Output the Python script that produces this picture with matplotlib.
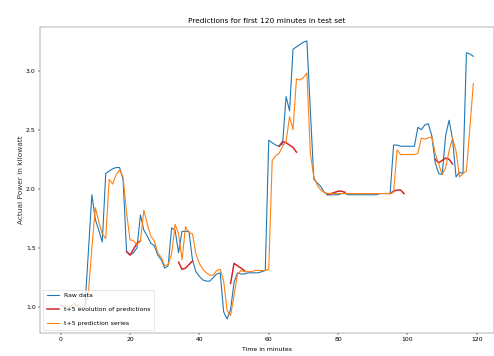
import numpy as np
import matplotlib
matplotlib.use('Agg')
import matplotlib.pyplot as plt

# raw power readings, one per minute (t = 0..119)
raw = [1.02, 1.00, 0.98, 1.01, 1.03, 1.00, 0.98, 1.00, 1.47, 1.95,
       1.74, 1.65, 1.55, 2.13, 2.15, 2.17, 2.18, 2.18, 2.08, 1.47,
       1.44, 1.46, 1.50, 1.78, 1.65, 1.60, 1.54, 1.52, 1.44, 1.40,
       1.33, 1.35, 1.67, 1.65, 1.46, 1.64, 1.64, 1.64, 1.40, 1.30,
       1.26, 1.23, 1.22, 1.22, 1.25, 1.28, 1.29, 0.96, 0.90, 0.98,
       1.21, 1.29, 1.28, 1.28, 1.29, 1.29, 1.29, 1.29, 1.30, 1.31,
       2.41, 2.39, 2.37, 2.36, 2.38, 2.78, 2.66, 3.18, 3.20, 3.22,
       3.24, 3.25, 2.66, 2.08, 2.05, 2.02, 1.97, 1.95, 1.95, 1.95,
       1.95, 1.96, 1.96, 1.95, 1.95, 1.95, 1.95, 1.95, 1.95, 1.95,
       1.95, 1.95, 1.96, 1.96, 1.96, 1.96, 2.37, 2.37, 2.36, 2.36,
       2.36, 2.36, 2.36, 2.52, 2.50, 2.54, 2.55, 2.45, 2.22, 2.13,
       2.12, 2.45, 2.58, 2.42, 2.10, 2.14, 2.13, 3.15, 3.14, 3.12]

# t+5 prediction series
pred = [1.00, 1.02, 1.00, 0.99, 1.01, 1.02, 1.00, 0.99, 1.12, 1.50,
        1.84, 1.72, 1.62, 1.58, 2.08, 2.04, 2.12, 2.16, 2.10, 1.80,
        1.57, 1.56, 1.53, 1.56, 1.82, 1.70, 1.60, 1.56, 1.46, 1.42,
        1.35, 1.36, 1.45, 1.70, 1.62, 1.40, 1.68, 1.63, 1.62, 1.45,
        1.37, 1.32, 1.29, 1.27, 1.27, 1.31, 1.32, 1.22, 0.97, 0.93,
        1.10, 1.28, 1.31, 1.30, 1.30, 1.30, 1.31, 1.31, 1.31, 1.31,
        1.32, 2.24, 2.28, 2.30, 2.36, 2.40, 2.61, 2.50, 2.93, 2.92,
        2.94, 2.98, 2.30, 2.10, 2.03, 1.99, 1.97, 1.96, 1.96, 1.96,
        1.96, 1.96, 1.96, 1.96, 1.96, 1.96, 1.96, 1.96, 1.96, 1.96,
        1.96, 1.96, 1.96, 1.96, 1.96, 1.96, 1.97, 2.33, 2.29, 2.29,
        2.29, 2.29, 2.29, 2.30, 2.43, 2.42, 2.43, 2.44, 2.30, 2.21,
        2.12, 2.18, 2.32, 2.43, 2.32, 2.10, 2.13, 2.15, 2.52, 2.89]

# t+5 evolution of predictions: (start minute, values)
evo_starts = [19, 34, 49, 63, 77, 95, 108]
evo_vals = [[1.47, 1.44, 1.49, 1.54, 1.56],
            [1.38, 1.32, 1.33, 1.36, 1.39],
            [1.20, 1.37, 1.35, 1.33, 1.31],
            [2.36, 2.40, 2.39, 2.37, 2.35, 2.31],
            [1.95, 1.96, 1.97, 1.98, 1.98, 1.97],
            [1.96, 1.98, 1.99, 1.99, 1.96],
            [2.25, 2.22, 2.24, 2.26, 2.25, 2.21]]

t = np.arange(len(raw))

# glue the red pieces into one line with gaps
evo_x, evo_y = [], []
for s, v in zip(evo_starts, evo_vals):
    evo_x += list(range(s, s + len(v))) + [np.nan]
    evo_y += v + [np.nan]

DPI = 44
fig = plt.figure(figsize=(494/DPI, 356/DPI), dpi=DPI)
ax = fig.add_axes([0.081, 0.065, 0.919, 0.859])

ax.plot(t, raw, color='#1f77b4', lw=1.8, label='Raw data')
ax.plot(evo_x, evo_y, color='#d62728', lw=2.5, label='t+5 evolution of predictions')
ax.plot(t, pred, color='#ff7f0e', lw=1.8, label='t+5 prediction series')

for sp in ax.spines.values():
    sp.set_color('#666666')

ax.set_title('Predictions for first 120 minutes in test set')
ax.set_xlabel('Time in minutes', labelpad=8)
ax.set_ylabel('Actual Power in kilowatt', fontsize=12, color='#333333')
ax.legend(loc='lower left', labelspacing=1.4, borderpad=0.6)

fig.savefig('out.png', dpi=DPI)
